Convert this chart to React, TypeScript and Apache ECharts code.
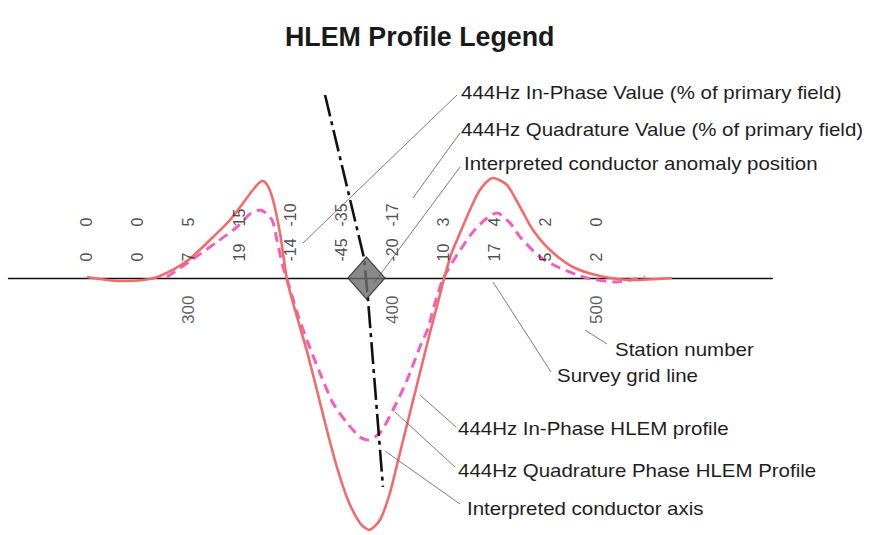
import React, { useEffect, useRef } from "react";
import * as echarts from "echarts";

// ---- Data ----
const stations = [250, 275, 300, 325, 350, 375, 400, 425, 450, 475, 500];
const inPhaseValues = [0, 0, 7, 19, -14, -45, -20, 10, 17, 5, 2];
const quadratureValues = [0, 0, 5, 15, -10, -35, -17, 3, 4, 2, 0];
const stationTickLabels = [300, 400, 500];

const inPhaseProfileX = [250.0, 266.2, 277.5, 285.8, 299.0, 310.3, 320.1, 326.5, 333.3, 336.3, 338.7, 341.2, 344.6, 348.0, 351.0, 354.4, 357.8, 362.7, 367.6, 372.5, 377.9, 383.8, 388.2, 393.6, 398.5, 403.4, 408.3, 413.2, 418.1, 422.1, 425.0, 428.4, 431.4, 437.7, 442.6, 449.0, 455.9, 462.3, 468.6, 477.0, 488.2, 501.5, 517.6, 536.8];
const inPhaseProfileY = [0.2, -0.6, -0.4, 0.4, 3.4, 7.6, 11.6, 15.0, 18.6, 19.4, 18.4, 15.6, 9.0, -0.2, -5.0, -9.8, -14.6, -22.4, -30.4, -37.8, -44.4, -49.0, -50.4, -48.4, -43.0, -35.0, -27.0, -19.0, -11.0, -4.8, -0.2, 4.6, 7.6, 13.6, 17.6, 20.0, 18.6, 14.2, 9.6, 5.6, 2.2, 0.4, -0.4, 0];

const quadProfileX = [289.2, 302.0, 313.7, 323.5, 329.9, 334.8, 340.7, 343.1, 346.1, 348.0, 353.4, 357.8, 364.2, 370.6, 377.5, 383.8, 387.7, 393.6, 400.0, 406.9, 413.2, 417.2, 420.6, 424.5, 428.9, 434.3, 439.2, 446.1, 451.0, 457.4, 462.3, 472.1, 481.9, 495.1, 509.8, 523.5];
const quadProfileY = [0.2, 3.8, 7.2, 10.2, 12.8, 13.6, 11.6, 7.6, 2.2, -0.2, -7.4, -12.4, -19, -25, -29, -31.8, -32.4, -31, -26.4, -20.4, -13.8, -10.0, -5.0, -0.2, 3.0, 6.4, 9.2, 12, 13, 11, 8.2, 4.2, 2, 0, -0.8, 0.2];

const conductorAxisX = [366.7, 385.8, 387.7, 395.1];
const conductorAxisY = [36.6, 4.0, -4.0, -41.8];

const anomalyStation = [387];
const anomalyValue = [0];

const titleText = "HLEM Profile Legend";
const annotationTexts = [
  "444Hz In-Phase Value (% of primary field)",
  "444Hz Quadrature Value (% of primary field)",
  "Interpreted conductor anomaly position",
  "Station number",
  "Survey grid line",
  "444Hz In-Phase HLEM profile",
  "444Hz Quadrature Phase HLEM Profile",
  "Interpreted conductor axis",
];

// ---- Layout / style (not data) ----
const FONT = '"Liberation Sans", Arial, Helvetica, sans-serif';
const annotationAnchors = [
  [461, 92],
  [461, 129.6],
  [464, 163.6],
  [615, 349.6],
  [557, 375.3],
  [458, 428.6],
  [458, 470.3],
  [467, 508.6],
];
const leaderLines = [
  [457, 95, 303, 243],
  [460, 133, 413, 198],
  [460, 167, 374, 283],
  [585, 330, 607, 344],
  [493, 282, 551, 372],
  [420, 395, 456, 427],
  [395, 412, 455, 467],
  [385, 451, 460, 504],
];

const zip = (xs: number[], ys: number[]) => xs.map((x, i) => [x, ys[i]]);

function buildOption() {
  const graphic: any[] = [];
  leaderLines.forEach(([x1, y1, x2, y2]) => {
    graphic.push({
      type: "line",
      z: 20,
      silent: true,
      shape: { x1, y1, x2, y2 },
      style: { stroke: "#5a5a5a", lineWidth: 0.8 },
    });
  });
  annotationTexts.forEach((t, i) => {
    graphic.push({
      type: "text",
      x: annotationAnchors[i][0],
      y: annotationAnchors[i][1],
      scaleX: 1.1,
      z: 20,
      silent: true,
      style: {
        text: t,
        fill: "#1e1e1e",
        font: `18.6px ${FONT}`,
        fontSize: 18.6,
        fontFamily: FONT,
        align: "left",
        verticalAlign: "middle",
        textAlign: "left",
        textVerticalAlign: "middle",
      },
    });
  });

  const valueLabel = (offset: number) => ({
    show: true,
    formatter: (p: any) => String(p.value[2]),
    rotate: 90,
    position: [0, offset],
    align: "left",
    verticalAlign: "middle",
    fontSize: 16,
    color: "#222",
    fontFamily: FONT,
  });

  return {
    animation: false,
    backgroundColor: "#ffffff",
    title: {
      text: titleText,
      left: 285,
      top: 23,
      padding: 0,
      textStyle: { fontSize: 26.8, fontWeight: "bold", color: "#1a1a1a", fontFamily: FONT },
    },
    grid: {
      left: 8.46,
      right: 112.6,
      top: 78,
      bottom: 2,
      containLabel: false,
      outerBoundsMode: "none",
    },
    xAxis: {
      type: "value",
      min: 211.5,
      max: 586,
      splitLine: { show: false },
      axisTick: { show: false },
      axisLabel: { show: false },
      axisLine: { show: true, onZero: true, lineStyle: { color: "#111", width: 1.3 } },
    },
    yAxis: {
      type: "value",
      min: -51,
      max: 40,
      show: false,
      splitLine: { show: false },
    },
    graphic,
    series: [
      {
        name: "444Hz Quadrature Phase HLEM Profile",
        type: "line",
        data: zip(quadProfileX, quadProfileY),
        smooth: 0.25,
        symbol: "none",
        clip: false,
        lineStyle: { color: "#F55EBE", width: 3, type: [10, 6] },
        z: 3,
      },
      {
        name: "444Hz In-Phase HLEM profile",
        type: "line",
        data: zip(inPhaseProfileX, inPhaseProfileY),
        smooth: 0.25,
        symbol: "none",
        clip: false,
        lineStyle: { color: "#F46A6A", width: 2.6 },
        z: 4,
      },
      {
        name: "Interpreted conductor axis",
        type: "line",
        data: zip(conductorAxisX, conductorAxisY),
        symbol: "none",
        clip: false,
        lineStyle: { color: "#111", width: 2.6, type: [22, 5, 4, 5] },
        z: 5,
      },
      {
        name: "Interpreted conductor anomaly position",
        type: "scatter",
        data: zip(anomalyStation, anomalyValue),
        symbol: "diamond",
        symbolSize: [37, 42],
        itemStyle: { color: "#6c6c6c", borderColor: "#2a2a2a", borderWidth: 1.2 },
        z: 6,
      },
      {
        name: "444Hz In-Phase Value",
        type: "scatter",
        data: stations.map((s, i) => [s, 0, inPhaseValues[i]]),
        symbolSize: 1,
        itemStyle: { color: "rgba(0,0,0,0)" },
        label: valueLabel(-16),
        silent: true,
        z: 7,
      },
      {
        name: "444Hz Quadrature Value",
        type: "scatter",
        data: stations.map((s, i) => [s, 0, quadratureValues[i]]),
        symbolSize: 1,
        itemStyle: { color: "rgba(0,0,0,0)" },
        label: valueLabel(-51),
        silent: true,
        z: 7,
      },
      {
        name: "Station number",
        type: "scatter",
        data: stationTickLabels.map((s) => [s, 0]),
        symbolSize: 1,
        itemStyle: { color: "rgba(0,0,0,0)" },
        label: {
          show: true,
          formatter: (p: any) => String(p.value[0]),
          rotate: 90,
          position: [0, 18],
          align: "right",
          verticalAlign: "middle",
          fontSize: 17,
          color: "#333",
          fontFamily: FONT,
        },
        silent: true,
        z: 7,
      },
    ],
  };
}

export default function App() {
  const ref = useRef<HTMLDivElement>(null);
  useEffect(() => {
    if (!ref.current) return;
    const chart = echarts.init(ref.current, null, { renderer: "svg" });
    chart.setOption(buildOption() as any);
    return () => chart.dispose();
  }, []);
  return (
    <div
      ref={ref}
      style={{ position: "fixed", left: 0, top: 0, width: 885, height: 535, background: "#fff" }}
    />
  );
}
